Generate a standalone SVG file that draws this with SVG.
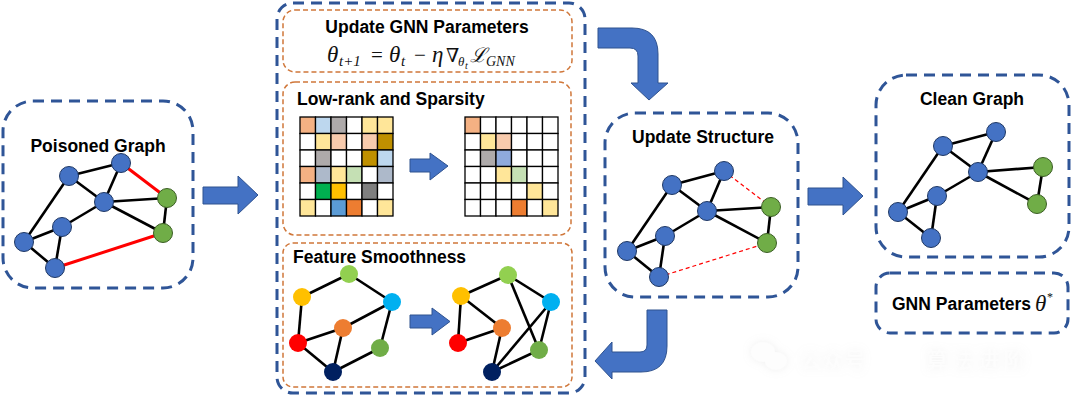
<svg xmlns="http://www.w3.org/2000/svg" width="1080" height="400" viewBox="0 0 1080 400">
<style>
.bluebox{fill:none;stroke:#2F5597;stroke-width:3;stroke-dasharray:11 7}
.orbox{fill:none;stroke:#D0773A;stroke-width:1.5;stroke-dasharray:5 3}
.title{font-family:"Liberation Sans",Arial,sans-serif;font-weight:bold;font-size:17.5px;fill:#000}
.e{stroke:#000;stroke-width:2.6;fill:none}
.red{stroke:#FF0000;stroke-width:3;fill:none}
.rdash{stroke:#FF0000;stroke-width:1.2;stroke-dasharray:4 3;fill:none}
.nb{fill:#4472C4;stroke:#1F3864;stroke-width:1}
.ng{fill:#70AD47;stroke:#3B5E24;stroke-width:1}
.arr{fill:#4472C4;stroke:#2F528F;stroke-width:1}
.cell{stroke:#000;stroke-width:1.3}
.m{font-family:"Liberation Serif","DejaVu Serif",serif;font-style:italic;fill:#111}
.mn{font-family:"Liberation Serif","DejaVu Serif",serif;fill:#111}
</style>
<defs>
<filter id="wm" x="-20%" y="-60%" width="140%" height="220%">
<feGaussianBlur in="SourceAlpha" stdDeviation="4" result="b"/>
<feFlood flood-color="#aaa" flood-opacity="0.18"/>
<feComposite in2="b" operator="in" result="s"/>
<feMerge><feMergeNode in="s"/><feMergeNode in="SourceGraphic"/></feMerge>
</filter>
</defs>
<rect width="1080" height="400" fill="#fff"/>

<!-- Poisoned Graph -->
<g id="poisoned-graph">
<rect class="bluebox" x="3" y="101" width="190" height="187" rx="30"/>
<text class="title" x="98" y="152" text-anchor="middle">Poisoned Graph</text>
<g>
<line class="e" x1="69" y1="176" x2="121" y2="163"/>
<line class="e" x1="69" y1="176" x2="104" y2="202"/>
<line class="e" x1="121" y1="163" x2="104" y2="202"/>
<line class="e" x1="104" y1="202" x2="167" y2="198"/>
<line class="e" x1="104" y1="202" x2="163" y2="233"/>
<line class="e" x1="167" y1="198" x2="163" y2="233"/>
<line class="e" x1="104" y1="202" x2="62" y2="227"/>
<line class="e" x1="62" y1="227" x2="24" y2="242"/>
<line class="e" x1="24" y1="242" x2="69" y2="176"/>
<line class="e" x1="24" y1="242" x2="55" y2="268"/>
<line class="e" x1="62" y1="227" x2="55" y2="268"/>
<line class="red" x1="121" y1="163" x2="167" y2="198"/>
<line class="red" x1="55" y1="268" x2="163" y2="233"/>
<circle class="nb" cx="69" cy="176" r="9.5"/>
<circle class="nb" cx="121" cy="163" r="9.5"/>
<circle class="nb" cx="104" cy="202" r="9.5"/>
<circle class="ng" cx="167" cy="198" r="9.5"/>
<circle class="ng" cx="163" cy="233" r="9.5"/>
<circle class="nb" cx="62" cy="227" r="9.5"/>
<circle class="nb" cx="24" cy="242" r="9.5"/>
<circle class="nb" cx="55" cy="268" r="9.5"/>
</g>
</g>

<!-- Middle big box -->
<g id="optimization-box">
<rect class="bluebox" x="277" y="3" width="308" height="390" rx="16"/>
</g>

<g id="update-gnn-params">
<rect class="orbox" x="283" y="10" width="289" height="62" rx="12"/>
<text class="title" x="427" y="33" text-anchor="middle">Update GNN Parameters</text>
<text class="m" x="327" y="62" font-size="23">θ</text>
<text class="m" x="339" y="66" font-size="15">t+1</text>
<text class="mn" x="371" y="62" font-size="21">=</text>
<text class="m" x="389" y="62" font-size="23">θ</text>
<text class="m" x="401" y="66" font-size="15">t</text>
<text class="mn" x="414" y="62" font-size="21">−</text>
<text class="m" x="432" y="62" font-size="23">η</text>
<text class="mn" x="446" y="62" font-size="19">∇</text>
<text class="m" x="458" y="66" font-size="13">θ</text>
<text class="m" x="465" y="69" font-size="10">t</text>
<text class="m" x="470" y="62" font-size="20">ℒ</text>
<text class="m" x="486" y="66" font-size="14">GNN</text>
</g>

<g id="low-rank-sparsity">
<rect class="orbox" x="283" y="82" width="288" height="153" rx="12"/>
<text class="title" x="297" y="105">Low-rank and Sparsity</text>
<g id="matrix-left">
<rect class="cell" x="300" y="117" width="15.5" height="16.5" fill="#F4B183"/>
<rect class="cell" x="315.5" y="117" width="15.5" height="16.5" fill="#BDD7EE"/>
<rect class="cell" x="331" y="117" width="15.5" height="16.5" fill="#AEAAAA"/>
<rect class="cell" x="346.5" y="117" width="15.5" height="16.5" fill="#fff"/>
<rect class="cell" x="362" y="117" width="15.5" height="16.5" fill="#FFE699"/>
<rect class="cell" x="377.5" y="117" width="15.5" height="16.5" fill="#FFE699"/>
<rect class="cell" x="300" y="133.5" width="15.5" height="16.5" fill="#fff"/>
<rect class="cell" x="315.5" y="133.5" width="15.5" height="16.5" fill="#FFE699"/>
<rect class="cell" x="331" y="133.5" width="15.5" height="16.5" fill="#F8CBAD"/>
<rect class="cell" x="346.5" y="133.5" width="15.5" height="16.5" fill="#fff"/>
<rect class="cell" x="362" y="133.5" width="15.5" height="16.5" fill="#F8CBAD"/>
<rect class="cell" x="377.5" y="133.5" width="15.5" height="16.5" fill="#BF9000"/>
<rect class="cell" x="300" y="150" width="15.5" height="16.5" fill="#fff"/>
<rect class="cell" x="315.5" y="150" width="15.5" height="16.5" fill="#AEAAAA"/>
<rect class="cell" x="331" y="150" width="15.5" height="16.5" fill="#fff"/>
<rect class="cell" x="346.5" y="150" width="15.5" height="16.5" fill="#fff"/>
<rect class="cell" x="362" y="150" width="15.5" height="16.5" fill="#BF9000"/>
<rect class="cell" x="377.5" y="150" width="15.5" height="16.5" fill="#BDD7EE"/>
<rect class="cell" x="300" y="166.5" width="15.5" height="16.5" fill="#F4B183"/>
<rect class="cell" x="315.5" y="166.5" width="15.5" height="16.5" fill="#ADB9CA"/>
<rect class="cell" x="331" y="166.5" width="15.5" height="16.5" fill="#FFE699"/>
<rect class="cell" x="346.5" y="166.5" width="15.5" height="16.5" fill="#C5E0B4"/>
<rect class="cell" x="362" y="166.5" width="15.5" height="16.5" fill="#fff"/>
<rect class="cell" x="377.5" y="166.5" width="15.5" height="16.5" fill="#ADB9CA"/>
<rect class="cell" x="300" y="183" width="15.5" height="16.5" fill="#fff"/>
<rect class="cell" x="315.5" y="183" width="15.5" height="16.5" fill="#00B050"/>
<rect class="cell" x="331" y="183" width="15.5" height="16.5" fill="#FFC000"/>
<rect class="cell" x="346.5" y="183" width="15.5" height="16.5" fill="#fff"/>
<rect class="cell" x="362" y="183" width="15.5" height="16.5" fill="#7F7F7F"/>
<rect class="cell" x="377.5" y="183" width="15.5" height="16.5" fill="#fff"/>
<rect class="cell" x="300" y="199.5" width="15.5" height="16.5" fill="#FFE699"/>
<rect class="cell" x="315.5" y="199.5" width="15.5" height="16.5" fill="#fff"/>
<rect class="cell" x="331" y="199.5" width="15.5" height="16.5" fill="#5B9BD5"/>
<rect class="cell" x="346.5" y="199.5" width="15.5" height="16.5" fill="#ED7D31"/>
<rect class="cell" x="362" y="199.5" width="15.5" height="16.5" fill="#fff"/>
<rect class="cell" x="377.5" y="199.5" width="15.5" height="16.5" fill="#FFE699"/>
</g>
<path class="arr" d="M410,159 L430,159 L430,153 L448,166 L430,180 L430,172 L410,172 Z"/>
<g id="matrix-right">
<rect class="cell" x="465" y="117" width="15.5" height="16.5" fill="#F4B183"/>
<rect class="cell" x="480.5" y="117" width="15.5" height="16.5" fill="#fff"/>
<rect class="cell" x="496" y="117" width="15.5" height="16.5" fill="#fff"/>
<rect class="cell" x="511.5" y="117" width="15.5" height="16.5" fill="#fff"/>
<rect class="cell" x="527" y="117" width="15.5" height="16.5" fill="#fff"/>
<rect class="cell" x="542.5" y="117" width="15.5" height="16.5" fill="#fff"/>
<rect class="cell" x="465" y="133.5" width="15.5" height="16.5" fill="#fff"/>
<rect class="cell" x="480.5" y="133.5" width="15.5" height="16.5" fill="#FFE699"/>
<rect class="cell" x="496" y="133.5" width="15.5" height="16.5" fill="#F8CBAD"/>
<rect class="cell" x="511.5" y="133.5" width="15.5" height="16.5" fill="#fff"/>
<rect class="cell" x="527" y="133.5" width="15.5" height="16.5" fill="#fff"/>
<rect class="cell" x="542.5" y="133.5" width="15.5" height="16.5" fill="#fff"/>
<rect class="cell" x="465" y="150" width="15.5" height="16.5" fill="#fff"/>
<rect class="cell" x="480.5" y="150" width="15.5" height="16.5" fill="#AEAAAA"/>
<rect class="cell" x="496" y="150" width="15.5" height="16.5" fill="#8FAADC"/>
<rect class="cell" x="511.5" y="150" width="15.5" height="16.5" fill="#fff"/>
<rect class="cell" x="527" y="150" width="15.5" height="16.5" fill="#fff"/>
<rect class="cell" x="542.5" y="150" width="15.5" height="16.5" fill="#fff"/>
<rect class="cell" x="465" y="166.5" width="15.5" height="16.5" fill="#fff"/>
<rect class="cell" x="480.5" y="166.5" width="15.5" height="16.5" fill="#fff"/>
<rect class="cell" x="496" y="166.5" width="15.5" height="16.5" fill="#FFE699"/>
<rect class="cell" x="511.5" y="166.5" width="15.5" height="16.5" fill="#C5E0B4"/>
<rect class="cell" x="527" y="166.5" width="15.5" height="16.5" fill="#fff"/>
<rect class="cell" x="542.5" y="166.5" width="15.5" height="16.5" fill="#fff"/>
<rect class="cell" x="465" y="183" width="15.5" height="16.5" fill="#fff"/>
<rect class="cell" x="480.5" y="183" width="15.5" height="16.5" fill="#fff"/>
<rect class="cell" x="496" y="183" width="15.5" height="16.5" fill="#fff"/>
<rect class="cell" x="511.5" y="183" width="15.5" height="16.5" fill="#fff"/>
<rect class="cell" x="527" y="183" width="15.5" height="16.5" fill="#FFE699"/>
<rect class="cell" x="542.5" y="183" width="15.5" height="16.5" fill="#fff"/>
<rect class="cell" x="465" y="199.5" width="15.5" height="16.5" fill="#fff"/>
<rect class="cell" x="480.5" y="199.5" width="15.5" height="16.5" fill="#fff"/>
<rect class="cell" x="496" y="199.5" width="15.5" height="16.5" fill="#fff"/>
<rect class="cell" x="511.5" y="199.5" width="15.5" height="16.5" fill="#ED7D31"/>
<rect class="cell" x="527" y="199.5" width="15.5" height="16.5" fill="#fff"/>
<rect class="cell" x="542.5" y="199.5" width="15.5" height="16.5" fill="#FFE699"/>
</g>
</g>

<g id="feature-smoothness">
<rect class="orbox" x="283" y="243" width="289" height="144" rx="10"/>
<text class="title" x="293" y="263">Feature Smoothness</text>
<g id="fs-left">
<line class="e" x1="302" y1="297" x2="349" y2="274"/>
<line class="e" x1="349" y1="274" x2="392" y2="302"/>
<line class="e" x1="302" y1="297" x2="298" y2="343"/>
<line class="e" x1="298" y1="343" x2="343" y2="328"/>
<line class="e" x1="343" y1="328" x2="392" y2="302"/>
<line class="e" x1="392" y1="302" x2="380" y2="348"/>
<line class="e" x1="298" y1="343" x2="333" y2="372"/>
<line class="e" x1="343" y1="328" x2="333" y2="372"/>
<line class="e" x1="333" y1="372" x2="380" y2="348"/>
<circle cx="302" cy="297" r="9" fill="#FFC000"/>
<circle cx="349" cy="274" r="9" fill="#92D050"/>
<circle cx="392" cy="302" r="9" fill="#00B0F0"/>
<circle cx="343" cy="328" r="9" fill="#ED7D31"/>
<circle cx="298" cy="343" r="9" fill="#FF0000"/>
<circle cx="380" cy="348" r="9" fill="#70AD47"/>
<circle cx="333" cy="372" r="9" fill="#002060"/>
</g>
<path class="arr" d="M410,315 L432,315 L432,308 L450,321.5 L432,335 L432,328 L410,328 Z"/>
<g id="fs-right">
<line class="e" x1="461" y1="296" x2="508" y2="275"/>
<line class="e" x1="508" y1="275" x2="551" y2="302"/>
<line class="e" x1="461" y1="296" x2="458" y2="343"/>
<line class="e" x1="461" y1="296" x2="502" y2="328"/>
<line class="e" x1="458" y1="343" x2="502" y2="328"/>
<line class="e" x1="508" y1="275" x2="539" y2="350"/>
<line class="e" x1="551" y1="302" x2="539" y2="350"/>
<line class="e" x1="551" y1="302" x2="492" y2="372"/>
<line class="e" x1="502" y1="328" x2="492" y2="372"/>
<line class="e" x1="492" y1="372" x2="539" y2="350"/>
<circle cx="461" cy="296" r="9" fill="#FFC000"/>
<circle cx="508" cy="275" r="9" fill="#92D050"/>
<circle cx="551" cy="302" r="9" fill="#00B0F0"/>
<circle cx="502" cy="328" r="9" fill="#ED7D31"/>
<circle cx="458" cy="343" r="9" fill="#FF0000"/>
<circle cx="539" cy="350" r="9" fill="#70AD47"/>
<circle cx="492" cy="372" r="9" fill="#002060"/>
</g>
</g>

<!-- Update Structure -->
<g id="update-structure">
<rect class="bluebox" x="605" y="113" width="193" height="184" rx="30"/>
<text class="title" x="703" y="143" text-anchor="middle">Update Structure</text>
<line class="e" x1="672" y1="185" x2="724" y2="171"/>
<line class="e" x1="672" y1="185" x2="707" y2="211"/>
<line class="e" x1="724" y1="171" x2="707" y2="211"/>
<line class="e" x1="707" y1="211" x2="771" y2="207"/>
<line class="e" x1="707" y1="211" x2="767" y2="243"/>
<line class="e" x1="771" y1="207" x2="767" y2="243"/>
<line class="e" x1="707" y1="211" x2="665" y2="236"/>
<line class="e" x1="665" y1="236" x2="627" y2="251"/>
<line class="e" x1="627" y1="251" x2="672" y2="185"/>
<line class="e" x1="627" y1="251" x2="659" y2="277"/>
<line class="e" x1="665" y1="236" x2="659" y2="277"/>
<line class="rdash" x1="724" y1="171" x2="771" y2="207"/>
<line class="rdash" x1="659" y1="277" x2="767" y2="243"/>
<circle class="nb" cx="672" cy="185" r="9.5"/>
<circle class="nb" cx="724" cy="171" r="9.5"/>
<circle class="nb" cx="707" cy="211" r="9.5"/>
<circle class="ng" cx="771" cy="207" r="9.5"/>
<circle class="ng" cx="767" cy="243" r="9.5"/>
<circle class="nb" cx="665" cy="236" r="9.5"/>
<circle class="nb" cx="627" cy="251" r="9.5"/>
<circle class="nb" cx="659" cy="277" r="9.5"/>
</g>

<!-- Clean Graph -->
<g id="clean-graph">
<rect class="bluebox" x="876" y="75" width="193" height="182" rx="30"/>
<text class="title" x="972" y="105" text-anchor="middle">Clean Graph</text>
<line class="e" x1="943" y1="146" x2="996" y2="132"/>
<line class="e" x1="943" y1="146" x2="978" y2="172"/>
<line class="e" x1="996" y1="132" x2="978" y2="172"/>
<line class="e" x1="978" y1="172" x2="1043" y2="167"/>
<line class="e" x1="978" y1="172" x2="1037" y2="204"/>
<line class="e" x1="1043" y1="167" x2="1037" y2="204"/>
<line class="e" x1="978" y1="172" x2="937" y2="196"/>
<line class="e" x1="937" y1="196" x2="898" y2="212"/>
<line class="e" x1="898" y1="212" x2="943" y2="146"/>
<line class="e" x1="898" y1="212" x2="931" y2="238"/>
<line class="e" x1="937" y1="196" x2="931" y2="238"/>
<circle class="nb" cx="943" cy="146" r="9.5"/>
<circle class="nb" cx="996" cy="132" r="9.5"/>
<circle class="nb" cx="978" cy="172" r="9.5"/>
<circle class="ng" cx="1043" cy="167" r="9.5"/>
<circle class="ng" cx="1037" cy="204" r="9.5"/>
<circle class="nb" cx="937" cy="196" r="9.5"/>
<circle class="nb" cx="898" cy="212" r="9.5"/>
<circle class="nb" cx="931" cy="238" r="9.5"/>
</g>

<g id="gnn-parameters">
<rect class="bluebox" x="876" y="273" width="192" height="60" rx="14"/>
<text class="title" x="892" y="310">GNN Parameters</text>
<text class="m" x="1035" y="311" font-size="23">θ</text>
<text class="mn" x="1047" y="301" font-size="12">*</text>
</g>

<!-- Connectors (block arrows) -->
<g id="connectors">
<path class="arr" d="M203,187 L238,187 L238,176 L258,195 L238,214 L238,204 L203,204 Z"/>
<path class="arr" d="M598,28 L632,28 Q658,28 658,54 L658,83 L668,83 L649,100 L631,83 L638,83 L638,56 Q638,48 630,48 L598,48 Z"/>
<path class="arr" d="M808,188 L843,188 L843,177 L863,196 L843,215 L843,205 L808,205 Z"/>
<path class="arr" d="M647,310 L667,310 L667,346 Q667,372 641,372 L612,372 L612,379 L595,361 L612,342 L612,352 L640,352 Q647,352 647,345 Z"/>
</g>

<!-- watermark -->
<g id="watermark" filter="url(#wm)" fill="#fdfdfd">
<ellipse cx="763" cy="352" rx="12" ry="10"/>
<ellipse cx="776" cy="361" rx="11" ry="9"/>
<text x="800" y="368" font-family="'Noto Sans CJK SC',sans-serif" font-size="22">公众号</text>
<text x="926" y="368" font-family="'Noto Sans CJK SC',sans-serif" font-size="22" letter-spacing="4">算法进阶</text>
</g>
</svg>
